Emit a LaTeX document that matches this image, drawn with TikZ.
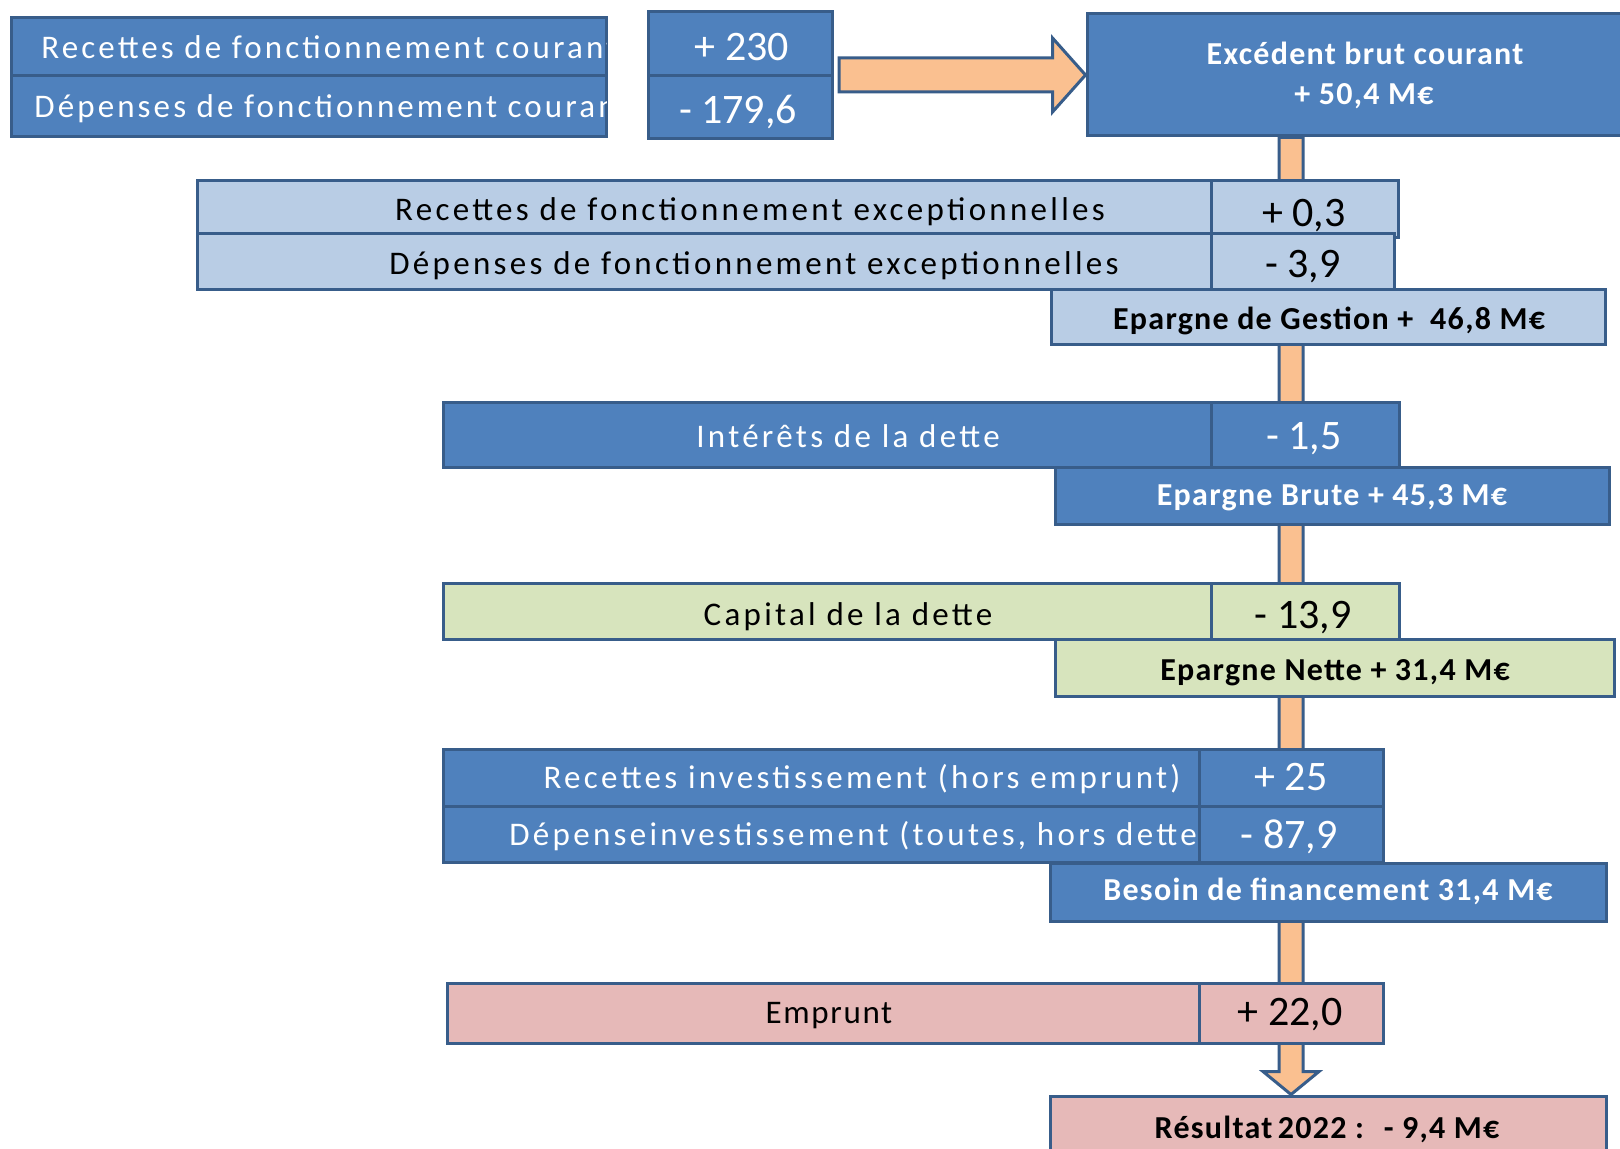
\documentclass[tikz,border=0pt]{standalone}
\usepackage{fontspec}
\setmainfont{Carlito}
\newfontfamily\labfont[LetterSpace=10]{Carlito}
\newfontfamily\sumfont[LetterSpace=4]{Carlito}
\usetikzlibrary{fit,calc}
\definecolor{dkblue}{HTML}{4F81BD}
\definecolor{bordc}{HTML}{385D8A}
\definecolor{ltblue}{HTML}{B9CDE5}
\definecolor{ltgreen}{HTML}{D7E4BD}
\definecolor{pinkc}{HTML}{E6B9B8}
\definecolor{orangec}{HTML}{FAC090}
\tikzset{
  box/.style={draw=bordc, line width=1.5pt, inner sep=0pt},
  dk/.style={box, fill=dkblue},
  lb/.style={box, fill=ltblue},
  gr/.style={box, fill=ltgreen},
  pk/.style={box, fill=pinkc},
  flow/.style={draw=bordc, fill=orangec, line width=1.5pt, line join=miter},
  lab/.style={anchor=base, inner sep=0pt, font=\labfont\fontsize{16.5}{19}\selectfont},
  labtight/.style={lab, font=\labfont\fontsize{16.5}{19}\selectfont\addfontfeature{LetterSpace=9.4}},
  num/.style={anchor=base, inner sep=0pt, font=\fontsize{21}{24}\selectfont},
  sum/.style={anchor=base, inner sep=0pt, font=\sumfont\bfseries\fontsize{16}{19}\selectfont},
  wt/.style={text=white},
  bk/.style={text=black},
}
\begin{document}
\begin{tikzpicture}[x=0.5pt,y=-0.5pt]
\useasboundingbox (0,0) rectangle (1620,1149);
\fill[white] (0,0) rectangle (1620,1149);

% ---- boxes (named) ----
\node[dk, fit={(1087,14) (1640,136)}] (Exc) {};
\node[pk, fit={(1050,1096) (1606,1175)}] (Res) {};

% vertical flow arrow (behind the boxes)
\coordinate (vx) at (1291,0);
\coordinate (vtop) at (Exc.south -| vx);
\coordinate (vtip) at (Res.north -| vx);
\draw[flow] ($(vtop)+(-12,0)$) -- ($(vtip)+(-12,-23)$) -- ($(vtip)+(-28,-23)$) -- (vtip)
  -- ($(vtip)+(28,-23)$) -- ($(vtip)+(12,-23)$) -- ($(vtop)+(12,0)$) -- cycle;

\node[dk, fit={(1087,14) (1640,136)}] (Exc2) {};
\node[pk, fit={(1050,1096) (1606,1175)}] (Res2) {};

\node[dk, fit={(11,18) (606,76)}] (A1) {};
\node[dk, fit={(11,76) (606,137)}] (A2) {};
\node[dk, fit={(648,12) (832,76)}] (V1) {};
\node[dk, fit={(648,76) (832,139)}] (V2) {};

\node[lb, fit={(197,181) (1211,234)}] (B1) {};
\node[lb, fit={(197,234) (1211,290)}] (B2) {};
\node[lb, fit={(1211,181) (1398,238)}] (BV1) {};
\node[lb, fit={(1211,234) (1394,290)}] (BV2) {};
\node[lb, fit={(1051,290) (1605,345)}] (Gest) {};

\node[dk, fit={(443,403) (1211,467)}] (C1) {};
\node[dk, fit={(1211,403) (1399,467)}] (CV) {};
\node[dk, fit={(1055,467) (1609,524)}] (Brute) {};

\node[gr, fit={(443,583) (1211,639)}] (D1) {};
\node[gr, fit={(1211,583) (1399,639)}] (DV) {};
\node[gr, fit={(1055,639) (1614,696)}] (Nette) {};

\node[dk, fit={(443,749) (1199,806)}] (E1) {};
\node[dk, fit={(443,806) (1199,862)}] (E2) {};
\node[dk, fit={(1199,749) (1383,806)}] (EV1) {};
\node[dk, fit={(1199,806) (1383,862)}] (EV2) {};
\node[dk, fit={(1050,863) (1606,921)}] (Besoin) {};

\node[pk, fit={(447,983) (1199,1043)}] (F1) {};
\node[pk, fit={(1199,983) (1383,1043)}] (FV) {};

% horizontal flow arrow
\coordinate (ha) at (839,75);
\draw[flow] ($(ha)+(0,-17)$) -- ($(Exc2.west)+(-33,-17)$) -- ($(Exc2.west)+(-33,-37)$) -- (Exc2.west)
  -- ($(Exc2.west)+(-33,37)$) -- ($(Exc2.west)+(-33,17)$) -- ($(ha)+(0,17)$) -- cycle;

% ---- texts ----
\begin{scope}
\clip (A1.south west) rectangle ($(A1.north east)+(-1.5,0)$);
\node[labtight, wt, anchor=base west] (tA1) at (41,59) {Recettes de fonctionnement courant};
\end{scope}
\begin{scope}
\clip (A2.south west) rectangle ($(A2.north east)+(-1.5,0)$);
\node[labtight, wt, anchor=base west] (tA2) at (34,118) {Dépenses de fonctionnement courant};
\end{scope}
\node[num, wt] (tV1) at (742,61) {+ 230};
\node[num, wt] (tV2) at (738,124) {- 179,6};
\node[sum, wt] (tExc1) at (1365,65) {Excédent brut courant};
\node[sum, wt] (tExc2) at (1364,105) {+ 50,4 M€};

\node[lab, bk] (tB1) at (750,221) {Recettes de fonctionnement exceptionnelles};
\node[lab, bk] (tB2) at (754,275) {Dépenses de fonctionnement exceptionnelles};
\node[num, bk] (tBV1) at (1304,227) {+ 0,3};
\node[num, bk] (tBV2) at (1303,278) {- 3,9};
\node[sum, bk] (tGest) at (1329,330) {Epargne de Gestion +~ 46,8 M€};

\node[lab, wt] (tC1) at (848,447) {Intérêts de la dette};
\node[num, wt] (tCV) at (1304,450) {- 1,5};
\node[sum, wt] (tBrute) at (1332,505) {Epargne Brute + 45,3 M€};

\node[lab, bk] (tD1) at (848,625) {Capital de la dette};
\node[num, bk] (tDV) at (1303,628) {- 13,9};
\node[sum, bk] (tNette) at (1335,680) {Epargne Nette + 31,4 M€};

\node[lab, wt] (tE1) at (862,788) {Recettes investissement (hors emprunt)};
\begin{scope}
\clip (E2.south west) rectangle ($(E2.north east)+(-1.5,0)$);
\node[lab, wt, anchor=base west] (tE2) at (509,845) {Dépenseinvestissement (toutes, hors dette)};
\end{scope}
\node[num, wt] (tEV1) at (1291,790) {+ 25};
\node[num, wt] (tEV2) at (1289,848) {- 87,9};
\node[sum, wt] (tBesoin) at (1328,900) {Besoin de financement 31,4 M€};

\node[lab, bk, font=\labfont\fontsize{16.5}{19}\selectfont\addfontfeature{LetterSpace=5}] (tF1) at (829,1023) {Emprunt};
\node[num, bk] (tFV) at (1290,1025) {+ 22,0};
\node[sum, bk] (tRes) at (1327,1138) {Résultat\,2022 :~ - 9,4 M€};
\end{tikzpicture}
\end{document}
